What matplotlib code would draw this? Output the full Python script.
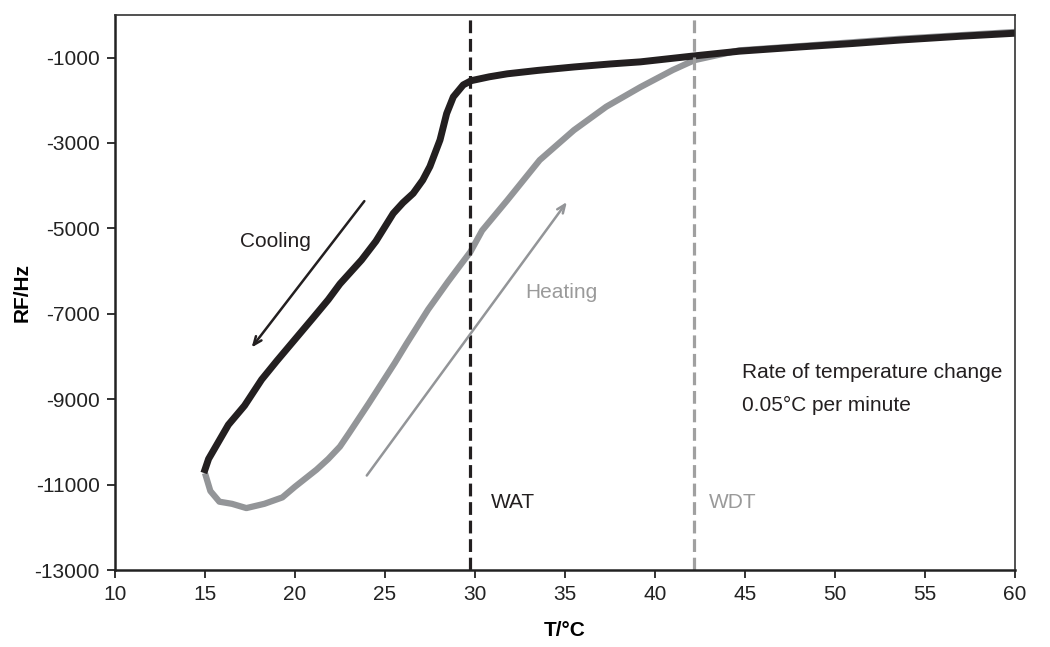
import numpy as np
import matplotlib.pyplot as plt

plt.rcParams['font.family'] = ['Liberation Sans', 'DejaVu Sans']
plt.rcParams['axes.unicode_minus'] = False

# --- data ---
cool_T = [15.0, 15.2, 16.3, 17.2, 18.15, 19.0, 20.0, 21.0, 21.85, 22.5, 23.7, 24.5,
          25.46, 26.0, 26.57, 27.1, 27.5, 28.06, 28.43, 28.8, 29.35, 29.8, 30.8, 31.8,
          33.5, 35.5, 37.5, 39.2, 42.2, 44.7, 48.1, 51.0, 53.6, 57.0, 60.0]
cool_RF = [-10650, -10400, -9600, -9150, -8540, -8100, -7600, -7100, -6670, -6300, -5740, -5300,
           -4650, -4400, -4180, -3870, -3550, -2930, -2310, -1920, -1640, -1540, -1450, -1380,
           -1300, -1220, -1150, -1100, -960, -850, -750, -670, -590, -500, -430]

heat_T = [15.05, 15.3, 15.8, 16.5, 17.3, 18.3, 19.3, 20.0, 21.2, 21.85, 22.5, 23.0,
          24.1, 25.55, 26.2, 26.8, 27.4, 28.5, 29.3, 29.75, 30.4, 31.8, 33.6, 35.5,
          37.3, 39.2, 41.0, 42.2, 44.7, 48.1, 53.6, 60.0]
heat_RF = [-10800, -11150, -11400, -11450, -11550, -11450, -11300, -11050, -10650, -10400, -10110, -9800,
           -9100, -8150, -7700, -7300, -6900, -6250, -5800, -5550, -5050, -4340, -3400, -2700,
           -2150, -1690, -1290, -1060, -830, -730, -560, -400]

WAT = 29.75
WDT = 42.2

black = '#231f20'
grey = '#939598'
fs = 15

fig = plt.figure(figsize=(10.5, 6.47), dpi=100)
ax = fig.add_axes([0.1095, 0.119, 0.857, 0.858])

ax.plot(heat_T, heat_RF, color=grey, lw=4.5, solid_joinstyle='round')
ax.plot(cool_T, cool_RF, color=black, lw=5, solid_joinstyle='round')

ax.axvline(WAT, color=black, lw=2.3, dashes=(4, 1.8))
ax.axvline(WDT, color='#a0a0a0', lw=2.3, dashes=(4, 1.8))

# arrows
ax.annotate('', xy=(17.5, -7840), xytext=(23.95, -4310),
            arrowprops=dict(arrowstyle='->,head_length=0.6,head_width=0.25', color=black, lw=1.8))
ax.annotate('', xy=(35.2, -4330), xytext=(23.9, -10840),
            arrowprops=dict(arrowstyle='->,head_length=0.6,head_width=0.25', color=grey, lw=1.8))

# text
ax.text(18.9, -5300, 'Cooling', fontsize=fs, color=black, ha='center', va='center')
ax.text(34.8, -6490, 'Heating', fontsize=fs, color='#9a9a9a', ha='center', va='center')
ax.text(30.9, -11420, 'WAT', fontsize=fs, color=black, ha='left', va='center')
ax.text(43.0, -11420, 'WDT', fontsize=fs, color='#9a9a9a', ha='left', va='center')
ax.text(44.85, -8380, 'Rate of temperature change', fontsize=fs, color=black, ha='left', va='center')
ax.text(44.85, -9150, '0.05\u00b0C per minute', fontsize=fs, color=black, ha='left', va='center')

ax.set_xlim(10, 60)
ax.set_ylim(-13000, 0)
ax.set_xticks(np.arange(10, 61, 5))
ax.set_yticks(np.arange(-13000, 0, 2000))
ax.tick_params(direction='out', length=6, width=1.3, labelsize=fs, colors='#222222', pad=5)

for side in ['left', 'bottom']:
    ax.spines[side].set_linewidth(1.8)
    ax.spines[side].set_color('#222222')
for side in ['top', 'right']:
    ax.spines[side].set_linewidth(1.2)
    ax.spines[side].set_color('#333333')

ax.set_xlabel('T/\u00b0C', fontsize=fs, fontweight='bold', labelpad=12)
ax.set_ylabel('RF/Hz', fontsize=fs, fontweight='bold', labelpad=2)

fig.savefig('out.png', dpi=100)
